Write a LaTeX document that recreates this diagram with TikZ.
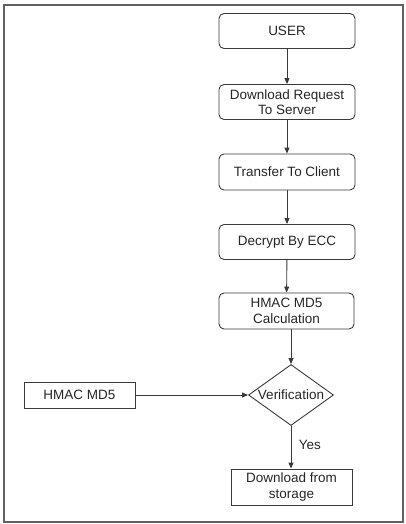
\documentclass[tikz,border=0pt]{standalone}
\usepackage{fontspec}
\setmainfont{Liberation Sans}
\usetikzlibrary{shapes.geometric,arrows.meta}
\definecolor{ln}{HTML}{3A3A3A}
\definecolor{tx}{HTML}{262626}
\begin{document}
\begin{tikzpicture}[x=1pt,y=-1pt,
  every node/.style={font=\fontsize{13.5}{15.5}\selectfont, text=tx},
  rbox/.style={draw=ln, line width=0.9pt, rounded corners=5pt, minimum width=136pt, minimum height=35pt, align=center, inner sep=1pt},
  sbox/.style={draw=ln, line width=0.9pt, align=center, inner sep=1pt},
  dec/.style={draw=ln, line width=0.9pt, diamond, minimum width=85pt, minimum height=61pt, inner sep=0pt},
  arr/.style={draw=ln, line width=0.9pt, -{Triangle[length=6pt,width=5pt]}}]
\useasboundingbox (0,0) rectangle (406,524);
\draw[draw=ln!80, line width=1.3pt] (4,5) rectangle (403,522);
\node[rbox] (user) at (287,31) {USER};
\node[rbox] (req) at (287,102) {Download Request\\To Server};
\node[rbox, minimum height=36pt] (trans) at (287,172) {Transfer To Client};
\node[rbox] (dec) at (287,242) {Decrypt By ECC};
\node[rbox, minimum width=135pt, minimum height=36pt] (calc) at (286.5,311) {HMAC MD5\\Calculation};
\node[dec, label={center:Verification}] (ver) at (291,395) {};
\node[sbox, minimum width=111pt, minimum height=26pt] (hm) at (79.5,395) {HMAC MD5};
\node[sbox, minimum width=121pt, minimum height=36pt] (dl) at (291.5,487) {Download from\\storage};
\draw[arr] (user) -- (req);
\draw[arr] (req) -- (trans);
\draw[arr] (trans) -- (dec);
\draw[arr] (dec) -- (calc);
\draw[arr] (calc.south -| ver.north) -- (ver.north);
\draw[arr] (hm) -- (ver);
\draw[arr] (ver.south) -- node[right=4pt, pos=0.45] (yes) {Yes} (dl.north -| ver.south);
\end{tikzpicture}
\end{document}
